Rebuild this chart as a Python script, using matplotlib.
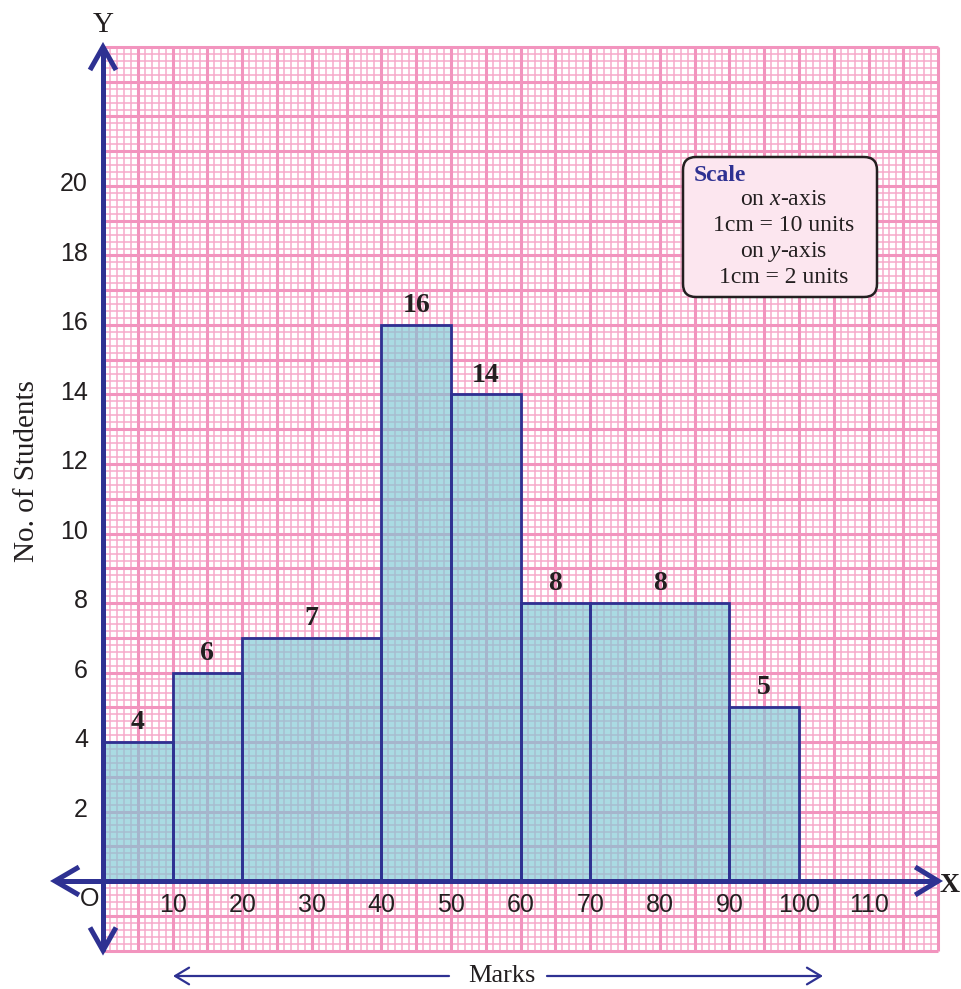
import numpy as np
import matplotlib
matplotlib.use('Agg')
import matplotlib.pyplot as plt
from matplotlib.patches import FancyBboxPatch

# class intervals (marks) and frequencies
lower = [0, 10, 20, 40, 50, 60, 70, 90]
upper = [10, 20, 40, 50, 60, 70, 90, 100]
students = [4, 6, 7, 16, 14, 8, 8, 5]

x_ticks = [10, 20, 30, 40, 50, 60, 70, 80, 90, 100, 110]
y_ticks = [2, 4, 6, 8, 10, 12, 14, 16, 18, 20]

NAVY = '#2E3192'
INK = '#231F20'
PX_X = 6.96    # pixels per x unit
PX_Y = 34.75   # pixels per y unit
X0, Y0 = 103, 881  # origin in pixels

plt.rcParams['mathtext.fontset'] = 'custom'
plt.rcParams['mathtext.rm'] = 'Liberation Serif'
plt.rcParams['mathtext.it'] = 'Liberation Serif:italic'

fig = plt.figure(figsize=(9.61, 9.89), dpi=100)
ax = fig.add_axes([0, 0, 1, 1])
ax.set_xlim(-X0 / PX_X, (961 - X0) / PX_X)
ax.set_ylim((Y0 - 989) / PX_Y, Y0 / PX_Y)
ax.axis('off')

# graph paper
gx0, gx1, gy0, gy1 = 0, 120, -2, 24
minor_x = np.arange(gx0, gx1 + 0.01, 1)
minor_y = np.arange(gy0, gy1 + 0.01, 0.2)
ax.vlines(minor_x, gy0, gy1, color='#F6A9CA', lw=1.1, zorder=1)
ax.hlines(minor_y, gx0, gx1, color='#F6A9CA', lw=1.1, zorder=1)
ax.vlines(np.arange(gx0, gx1 + 0.01, 5), gy0, gy1, color='#F294BE', lw=2.2, zorder=1)
ax.hlines(np.arange(gy0, gy1 + 0.01, 1), gx0, gx1, color='#F294BE', lw=2.2, zorder=1)

# histogram bars
widths = [u - l for l, u in zip(lower, upper)]
ax.bar(lower, students, width=widths, align='edge', color=(0.49, 0.785, 0.83),
       alpha=0.65, edgecolor='none', zorder=2)
ax.bar(lower, students, width=widths, align='edge', fill=False,
       edgecolor=NAVY, lw=2.0, zorder=3)
for l, u, n in zip(lower, upper, students):
    ax.text((l + u) / 2, n + 0.2, str(n), ha='center', va='bottom',
            fontsize=20, fontweight='bold', family='Liberation Serif', color=INK, zorder=4)

# axes with arrow heads
ax_lw = 3.6
x_left = (55 - X0) / PX_X
ax.plot([x_left, 120], [0, 0], color=NAVY, lw=ax_lw, solid_capstyle='butt', zorder=5)
ax.plot([0, 0], [-2, 24], color=NAVY, lw=ax_lw, solid_capstyle='butt', zorder=5)

def chevron(tx, ty, dx, dy):
    # dx, dy: pixel offsets of arm ends relative to the tip (other arm mirrored)
    if dy == 0:
        xs = [tx + dx / PX_X, tx, tx + dx / PX_X]
        ys = [ty + 14 / PX_Y, ty, ty - 14 / PX_Y]
    else:
        xs = [tx - 13 / PX_X, tx, tx + 13 / PX_X]
        ys = [ty + dy / PX_Y, ty, ty + dy / PX_Y]
    ax.plot(xs, ys, color=NAVY, lw=ax_lw, solid_joinstyle='miter',
            solid_capstyle='butt', zorder=5)

chevron(120, 0, -23, 0)
chevron(x_left, 0, 24, 0)
chevron(0, 24, 0, -23)
chevron(0, -2, 0, 23)

# tick labels
for t in x_ticks:
    ax.text(t, (Y0 - 905) / PX_Y, str(t), ha='center', va='center',
            fontsize=18, family='Liberation Sans', color=INK, zorder=6)
for t in y_ticks:
    ax.text((88 - X0) / PX_X, t + 0.05, str(t), ha='right', va='center',
            fontsize=18, family='Liberation Sans', color=INK, zorder=6)
ax.text((90 - X0) / PX_X, (Y0 - 899) / PX_Y, 'O', ha='center', va='center',
        fontsize=18, family='Liberation Sans', color=INK, zorder=6)

ax.text(0, (Y0 - 25) / PX_Y, 'Y', ha='center', va='center',
        fontsize=21, family='Liberation Serif', color=INK)
ax.text((950 - X0) / PX_X, (Y0 - 886) / PX_Y, 'X', ha='center', va='center',
        fontsize=20, family='Liberation Serif', fontweight='bold', color=INK)

ax.text((27 - X0) / PX_X, (Y0 - 471) / PX_Y, 'No. of Students', rotation=90,
        ha='center', va='center', fontsize=21, family='Liberation Serif', color=INK)

# "Marks" with arrows
y_marks = (Y0 - 976) / PX_Y
ax.text((502 - X0) / PX_X, y_marks, 'Marks', ha='center', va='center',
        fontsize=19, family='Liberation Serif', color=INK)
arrow_kw = dict(arrowstyle='->, head_length=0.5, head_width=0.3', color=NAVY,
                lw=1.6, mutation_scale=20, shrinkA=0, shrinkB=0)
ax.annotate('', xy=((173 - X0) / PX_X, y_marks), xytext=((449 - X0) / PX_X, y_marks),
            arrowprops=arrow_kw)
ax.annotate('', xy=((823 - X0) / PX_X, y_marks), xytext=((547 - X0) / PX_X, y_marks),
            arrowprops=arrow_kw)

# scale box
bx0, bx1 = (683 - X0) / PX_X, (877 - X0) / PX_X
by0, by1 = (Y0 - 297) / PX_Y, (Y0 - 157) / PX_Y
box = FancyBboxPatch((bx0, by0), bx1 - bx0, by1 - by0,
                     boxstyle='round,pad=0,rounding_size=%.2f' % (13 / PX_X),
                     mutation_aspect=PX_X / PX_Y,
                     facecolor='#FCE6EF', edgecolor=INK, lw=1.8, zorder=7)
ax.add_patch(box)
ax.text((694 - X0) / PX_X, (Y0 - 176) / PX_Y, 'Scale', ha='left', va='center',
        fontsize=17, fontweight='bold', family='Liberation Serif', color=NAVY, zorder=8)
cx = (784 - X0) / PX_X
scale_lines = ['on $x$-axis', '1cm = 10 units', 'on $y$-axis', '1cm = 2 units']
for i, s in enumerate(scale_lines):
    ax.text(cx, (Y0 - (200 + 26 * i)) / PX_Y, s, ha='center', va='center',
            fontsize=17, family='Liberation Serif', color=INK, zorder=8)

fig.savefig('out.png', dpi=100)
